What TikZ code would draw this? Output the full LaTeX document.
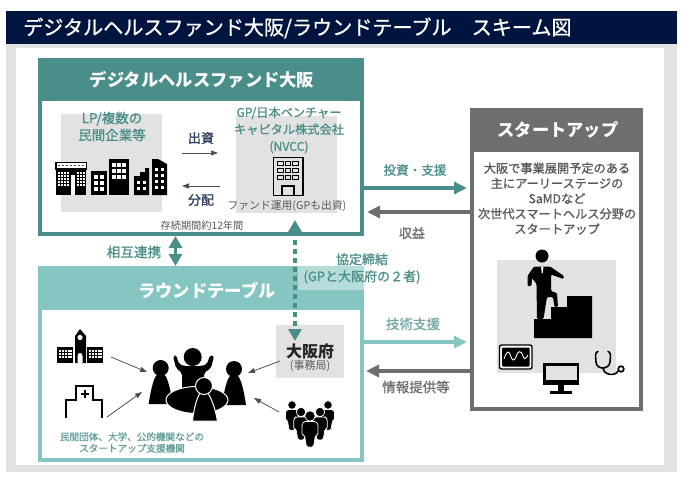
\documentclass[tikz,border=0pt]{standalone}
\usepackage{fontspec}
\usetikzlibrary{arrows.meta}
\newfontfamily\jp{Noto Sans CJK JP}
\newfontfamily\jpm[FakeBold=1]{Noto Sans CJK JP}
\newcommand{\fs}[2]{\jp\fontsize{#1}{#2}\selectfont}
\newcommand{\fm}[2]{\jpm\fontsize{#1}{#2}\selectfont}
\definecolor{navy}{HTML}{001440}
\definecolor{tealD}{HTML}{4A8E8A}
\definecolor{tealL}{HTML}{85C6C2}
\definecolor{tealP}{HTML}{B6DCD9}
\definecolor{grayD}{HTML}{6E6E6E}
\definecolor{grayT}{HTML}{595959}
\definecolor{grayL}{HTML}{E2E2E2}
\definecolor{inkB}{HTML}{2F3F5F}
\tikzset{
  panel/.style={draw=#1,line width=4pt,fill=white,inner sep=0pt,anchor=north west},
  head/.style={fill=#1,inner sep=0pt,anchor=north west},
  headtext/.style={inner sep=0pt,text=white,font=\fs{17.3}{20}\bfseries},
  shade/.style={fill=grayL,inner sep=0pt,anchor=north west},
  txt/.style={inner sep=0pt,align=center,text=#1},
  txt/.default=black,
  fat/.style={line width=3.5pt,draw=#1,-{Triangle[length=13pt,width=12pt]},fill=#1},
  thin/.style={line width=.7pt,draw=black!70,-{Triangle[length=7pt,width=5pt]},fill=black},
  pawn/.pic={
    \fill (0,0) circle (8);
    \fill (-12,36) .. controls (-10,22) and (-7,10) .. (-4,7) -- (4,7) .. controls (7,10) and (10,22) .. (12,36) -- cycle;
  },
  man/.pic={
    \path[fill=black,draw=white,line width=.7pt,rounded corners=1.5pt] (-6,5.5) -- (6,5.5) -- (8,8) -- (8,19) -- (5.5,19) -- (3.5,31) -- (-3.5,31) -- (-5.5,19) -- (-8,19) -- (-8,8) -- cycle;
    \path[fill=black,draw=white,line width=.7pt] (0,0) circle (5.2);
  },
}
\begin{document}
\begin{tikzpicture}[x=1pt,y=-1pt]
\useasboundingbox (0,0) rectangle (690,479);
% backdrop
\fill[grayL] (6,44) rectangle (677,472);
\fill[white] (16,48) rectangle (664,465);
\node[fill=navy,inner sep=0pt,anchor=north west,minimum width=671pt,minimum height=33pt] (titlebar) at (6,11) {};
\node[txt=white,anchor=west,font=\fm{20.1}{24}] (title) at (23,28) {デジタルヘルスファンド大阪/ラウンドテーブル　スキーム図};

% fund panel
\node[panel=tealD,minimum width=322pt,minimum height=174pt] (fund) at (38,58) {};
\node[head=tealD,minimum width=326pt,minimum height=43pt] (fundhead) at (38,58) {};
\node[headtext] (fundtitle) at (202,80) {デジタルヘルスファンド大阪};
\node[shade,minimum width=101pt,minimum height=98pt] (lpbox) at (61,114) {};
\node[shade,minimum width=101pt,minimum height=97pt] (gpbox) at (236,116) {};
\node[txt=tealD,font=\fm{13.5}{17}] (lp) at (112,126.5) {LP/複数の\\民間企業等};
\node[txt=tealD,font=\fm{12.2}{17}] (gp) at (289,130) {GP/日本ベンチャー\\キャピタル株式会社\\(NVCC)};
\node[txt=inkB,font=\fm{13}{16}] (invest) at (201,138) {出資};
\node[txt=inkB,font=\fm{13}{16}] (distrib) at (201,200) {分配};
\node[txt=grayT,font=\fs{10.8}{13}] (manage) at (287,206) {ファンド運用(GPも出資)};
\node[txt=grayT,font=\fs{10.2}{13}] (term) at (202,226) {存続期間約12年間};
\coordinate (inA) at (182,153); \coordinate (inB) at (218,153);
\coordinate (diA) at (220,186); \coordinate (diB) at (182,186);
\draw[thin] (inA) -- (inB);
\draw[thin] (diA) -- (diB);

% LP buildings
\fill (55,161.5) rectangle (87,169.5);
\fill[white] (56.5,163) rectangle (85.5,168);
\foreach \x in {58,62,66,70,74,78,82} \fill[black!70] (\x,164.5) rectangle +(2.2,1.8);
\fill (56,170) rectangle (86,195);
\foreach \x in {58,61,64,67,77,80,83}\foreach \y in {172,175,178,181,184}\fill[white] (\x-.0,\y) rectangle +(1.9,1.9);
\fill[white] (71,175) rectangle (75,195);
\fill (91,171) rectangle (107,195);
\foreach \x in {94,100}\foreach \y in {175,181,187}\fill[white] (\x,\y) rectangle +(3.6,3.6);
\fill (109,159) rectangle (129,195);
\foreach \x in {112,117,122}\foreach \y in {163,169,175}\fill[white] (\x,\y) rectangle +(3.6,3.6);
\fill (134,176) -- (140,176) -- (140,172) -- (145,172) -- (145,168) -- (149,168) -- (149,195) -- (134,195) -- cycle;
\foreach \x in {137,143}\foreach \y in {181,187}\fill[white] (\x,\y) rectangle +(3.4,3.4);
\fill (152,159) -- (158,159) -- (167,164) -- (167,195) -- (152,195) -- cycle;
\foreach \x in {155,161}\foreach \y in {168,174,180,186}\fill[white] (\x,\y) rectangle +(3,3);

% GP building
\draw[line width=1.3pt,fill=grayL] (273.5,157.5) rectangle (303,195.5);
\foreach \x in {277.5,285,292.5}\foreach \y in {161,168,175}\draw[line width=1pt] (\x,\y) rectangle +(5.5,4.5);
\draw[line width=1.1pt] (282,195.5) -- (282,186) -- (294,186) -- (294,195.5);

% round table panel
\node[panel=tealL,minimum width=322pt,minimum height=192pt] (round) at (38,266) {};
\node[head=tealL,minimum width=326pt,minimum height=44pt] (roundhead) at (38,266) {};
\node[headtext] (roundtitle) at (207,291) {ラウンドテーブル};
\node[inner sep=0pt,anchor=north west,fill=tealP,minimum width=66pt,minimum height=24pt] (agrbox) at (298,266) {};
\node[shade,minimum width=68pt,minimum height=53pt] (osakabox) at (276,325) {};
\node[txt=black!85,font=\fs{16}{19}\bfseries] (osaka) at (310,351) {大阪府};
\node[txt=grayT,font=\fs{11}{14}] (office) at (310,366) {(事務局)};
\node[txt=tealD!85!white,font=\fm{9.6}{11.5}] (support) at (132,442.5) {民間団体、大学、公的機関などの\\スタートアップ支援機関};

% school
\fill (80,329) -- (86,336) -- (86,363) -- (75,363) -- (75,336) -- cycle;
\fill (57,347) rectangle (73,363);
\fill (87,347) rectangle (103,363);
\fill[white] (80,337.5) circle (2.6);
\foreach \x in {59,61.9,64.8,67.7,70.4,89,91.9,94.8,97.7,100.4}\foreach \y in {350,353,356}\fill[white] (\x,\y) rectangle +(1.9,2);
\fill[white] (77.5,363) -- (77.5,356) .. controls (77.5,352) and (82.5,352) .. (82.5,356) -- (82.5,363) -- cycle;

% hospital
\draw[line width=1.8pt] (66,418) -- (66,400) -- (76,400) -- (76,386) -- (93,386) -- (93,400) -- (102,400) -- (102,418);
\draw[line width=1.8pt] (85,390) -- (85,398) (81,394) -- (89,394);

% people round the table
\pic at (160.7,368) {pawn};
\pic at (234,369) {pawn};
\fill (192.7,357) circle (9);
\fill[rounded corners=2pt] (173,356) -- (176,355) -- (179,364) -- (184,366) -- (202,366) -- (207,364) -- (210,355) -- (214,356) -- (211,368) -- (204,373) -- (205,392) -- (182,392) -- (182,373) -- (176,368) -- cycle;
\path[fill=black,draw=white,line width=1pt] (197,400) ellipse (31 and 13.5);
\fill[white] (193,421) rectangle (217,423);
\path[fill=black,draw=white,line width=1pt] (192.5,421) .. controls (194,407) and (197,398) .. (200,393) -- (208,393) .. controls (211,398) and (215,407) .. (217.5,421) -- cycle;
\path[fill=black,draw=white,line width=1pt] (204,386) circle (8.5);

% crowd
\pic[scale=.82] at (292,405) {man};
\pic[scale=.82] at (328,405) {man};
\pic[scale=.9] at (301,412) {man};
\pic[scale=.9] at (320,412) {man};
\pic at (310,416) {man};

\coordinate (schoolOut) at (111,357); \coordinate (groupA) at (147,372);
\coordinate (hospOut) at (107,417); \coordinate (groupB) at (142,392);
\coordinate (osakaOut) at (280,361); \coordinate (groupC) at (248,373);
\coordinate (crowdOut) at (279,412); \coordinate (groupD) at (254,398);
\draw[thin] (schoolOut) -- (groupA);
\draw[thin] (hospOut) -- (groupB);
\draw[thin] (osakaOut) -- (groupC);
\draw[thin] (crowdOut) -- (groupD);

% startup panel
\node[panel=grayD,minimum width=169pt,minimum height=299pt] (startup) at (470,108) {};
\node[head=grayD,minimum width=173pt,minimum height=44pt] (startuphead) at (470,108) {};
\node[headtext] (startuptitle) at (558,130) {スタートアップ};
\node[txt=grayT,font=\fm{12.2}{15.2}] (startuptext) at (557,198.5) {大阪で事業展開予定のある\\主にアーリーステージの\\SaMDなど\\次世代スマートヘルス分野の\\スタートアップ};
\node[shade,minimum width=119pt,minimum height=113pt] (climbbox) at (497,260) {};

% climber
\fill (534,338) -- (534,319) -- (551,319) -- (551,307) -- (567,307) -- (567,296) -- (592,296) -- (592,338) -- cycle;
\fill (542,256) circle (6.5);
\fill[rounded corners=1.2pt] (534,266.5) -- (550,266.5) -- (564,276) -- (563.5,279) -- (551,274.5) -- (551,291) -- (557,293) -- (558,307) -- (554.5,307) -- (553,297) -- (547,297) -- (543.5,319) -- (537,319) -- (536.5,284) -- (532,278) -- (531.5,286) -- (527.5,286) -- (527.5,276) -- cycle;
\fill[white] (541,266.5) -- (543.5,266.5) -- (542.8,273) -- (541.8,273) -- cycle;

% ECG monitor
\draw[line width=1.4pt,rounded corners=2pt,fill=white] (499.5,345) rectangle (532,369);
\fill[rounded corners=1pt] (502,347.5) rectangle (529.5,366.5);
\draw[white,line width=.9pt] (504,359) .. controls (507,350) and (509,350) .. (511,357) .. controls (512.5,361) and (514,361) .. (516,357) .. controls (518,350) and (521,350) .. (523,356) .. controls (524,360) and (526,359) .. (528,355);

% desktop monitor
\fill (543,363) rectangle (579,385);
\fill[grayL] (545.5,365.5) rectangle (576.5,380);
\fill (558,385) rectangle (564,391);
\fill (549.5,391) rectangle (572,393.5);

% stethoscope
\draw[line width=1.6pt,line cap=round] (598,351.5) .. controls (595,352) and (595.5,356) .. (596,362) .. controls (596.5,370) and (609,370) .. (610,362) .. controls (610.5,356) and (611,352) .. (608,351.5);
\draw[line width=1.6pt] (603,368) .. controls (604,376) and (616,376) .. (618,371);
\draw[line width=1.7pt,fill=white] (621,369) circle (2.8);

% wide connectors
\draw[fat=tealD] (fund.east |- 0,188) -- (467,188);
\coordinate (revEnd) at (367,212);
\draw[fat=grayD] (startup.west |- 0,212) -- (revEnd);
\draw[fat=tealL] (round.east |- 0,342) -- (467,342);
\coordinate (infoEnd) at (366,371);
\draw[fat=grayD] (startup.west |- 0,371) -- (infoEnd);
\draw[line width=3.5pt,draw=tealD,{Triangle[length=12pt,width=13pt]}-{Triangle[length=12pt,width=13pt]}] (fund.south -| 175.5,0) -- (roundhead.north -| 175.5,0);
\coordinate (dotTop) at (295,220); \coordinate (dotBottom) at (295,341);
\draw[line width=4.2pt,draw=tealD,line cap=butt,dash pattern=on 4.5pt off 4.5pt,{Triangle[length=12pt,width=13pt]}-{Triangle[length=12pt,width=13pt]}] (dotTop) -- (dotBottom);

% connector labels
\node[txt=tealD,font=\fm{12.6}{15}] (l1) at (415,170) {投資・支援};
\node[txt=grayD,font=\fm{13}{15}] (l2) at (412,233) {収益};
\node[txt=tealL!85!black,font=\fm{13.5}{15}] (l3) at (413,324) {技術支援};
\node[txt=grayD,font=\fm{13.5}{15}] (l4) at (416,387) {情報提供等};
\node[txt=tealD,font=\fm{13.6}{16}] (l5) at (134,252) {相互連携};
\node[txt=tealD,font=\fm{13}{17}] (l6) at (362,268.5) {協定締結\\(GPと大阪府の２者)};
\end{tikzpicture}
\end{document}
